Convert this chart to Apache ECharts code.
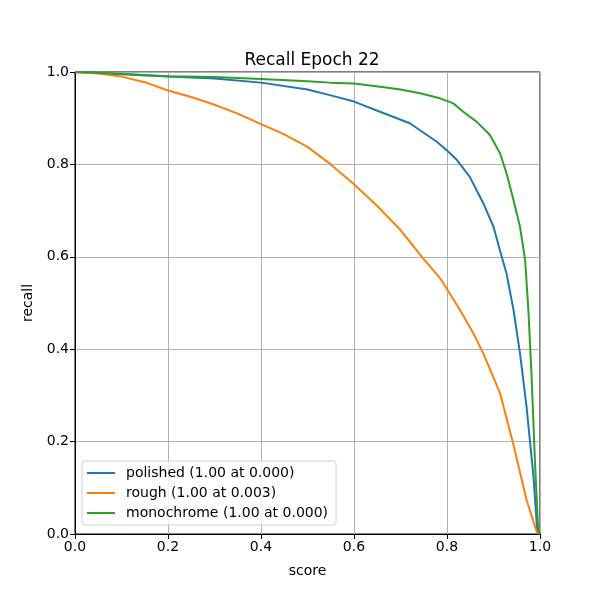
<!DOCTYPE html>
<html>
<head>
<meta charset="utf-8">
<script src="https://cdn.jsdelivr.net/npm/echarts@6/dist/echarts.min.js"></script>
<style>html,body{margin:0;padding:0;background:#fff}#c{width:600px;height:600px}</style>
</head>
<body>
<div id="c"></div>
<script>
var xTicks = [0, 0.2, 0.4, 0.6, 0.8, 1.0];
var yTicks = [0, 0.2, 0.4, 0.6, 0.8, 1.0];

var polishedX = [0, 0.05, 0.1, 0.2, 0.3, 0.4, 0.5, 0.548, 0.6, 0.656, 0.72, 0.778, 0.8, 0.821, 0.849, 0.878, 0.9, 0.915, 0.928, 0.943, 0.957, 0.971, 0.986, 0.994, 1.0];
var polishedY = [1.0, 0.998, 0.995, 0.99, 0.986, 0.977, 0.962, 0.95, 0.936, 0.914, 0.889, 0.849, 0.83, 0.81, 0.773, 0.716, 0.665, 0.61, 0.564, 0.485, 0.391, 0.276, 0.124, 0.009, 0.0];

var roughX = [0, 0.05, 0.1, 0.15, 0.2, 0.25, 0.3, 0.35, 0.4, 0.45, 0.5, 0.55, 0.6, 0.65, 0.7, 0.75, 0.785, 0.828, 0.857, 0.878, 0.914, 0.942, 0.971, 0.993, 1.0];
var roughY = [1.0, 0.997, 0.99, 0.978, 0.96, 0.946, 0.929, 0.91, 0.887, 0.865, 0.838, 0.8, 0.757, 0.71, 0.658, 0.595, 0.554, 0.485, 0.434, 0.391, 0.305, 0.197, 0.074, 0.005, 0.0];

var monoX = [0, 0.1, 0.2, 0.3, 0.4, 0.5, 0.548, 0.6, 0.656, 0.7, 0.742, 0.785, 0.814, 0.835, 0.864, 0.892, 0.914, 0.928, 0.943, 0.957, 0.968, 0.975, 0.982, 0.989, 0.996, 1.0];
var monoY = [1.0, 0.996, 0.991, 0.989, 0.985, 0.98, 0.977, 0.975, 0.968, 0.962, 0.954, 0.943, 0.932, 0.914, 0.892, 0.864, 0.824, 0.781, 0.723, 0.665, 0.593, 0.485, 0.34, 0.16, 0.009, 0.0];

var names = ['polished (1.00 at 0.000)', 'rough (1.00 at 0.003)', 'monochrome (1.00 at 0.000)'];
var colors = ['#1f77b4', '#ff7f0e', '#2ca02c'];

function pairs(xs, ys) { return xs.map(function (x, i) { return [x, ys[i]]; }); }

var font = 'DejaVu Sans';
var chart = echarts.init(document.getElementById('c'), null, {renderer: 'canvas'});
var axisCommon = {
  type: 'value', min: 0, max: 1, interval: 0.2,
  axisLine: {show: true, onZero: false, lineStyle: {color: '#000', width: 1}},
  axisTick: {show: true, length: 5, inside: false, lineStyle: {color: '#000', width: 1}},
  axisLabel: {color: '#000', fontFamily: font, fontSize: 14, margin: 6,
    formatter: function (v) { return v.toFixed(1); }},
  splitLine: {show: true, lineStyle: {color: '#b0b0b0', width: 1}},
  nameLocation: 'middle',
  nameTextStyle: {color: '#000', fontFamily: font, fontSize: 14}
};
var series = [
  pairs(polishedX, polishedY),
  pairs(roughX, roughY),
  pairs(monoX, monoY)
].map(function (d, i) {
  return {
    name: names[i], type: 'line', data: d, showSymbol: false, symbol: 'none',
    smooth: false, animation: false,
    lineStyle: {color: colors[i], width: 2}, itemStyle: {color: colors[i]}
  };
});
chart.setOption({
  animation: false,
  backgroundColor: '#fff',
  title: {text: 'Recall Epoch 22', left: 307, top: 47, textAlign: 'center',
    textStyle: {fontFamily: font, fontSize: 17, fontWeight: 'normal', color: '#000'}},
  grid: {left: 75, right: 60, top: 72, bottom: 66, show: true, borderColor: '#000', borderWidth: 1, backgroundColor: 'transparent'},
  xAxis: Object.assign({}, axisCommon, {name: 'score', nameGap: 30}),
  yAxis: Object.assign({}, axisCommon, {name: 'recall', nameGap: 40}),
  legend: {
    orient: 'vertical', left: 82, top: 461,
    data: names.map(function (n, i) { return {name: n, icon: 'rect', itemStyle: {color: colors[i]}}; }),
    itemWidth: 28, itemHeight: 2, itemGap: 6,
    padding: [5, 8, 5, 5],
    borderColor: '#d0d0d0', borderWidth: 1, borderRadius: 3,
    backgroundColor: 'rgba(255,255,255,0.8)',
    textStyle: {fontFamily: font, fontSize: 14, color: '#000', padding: [0, 0, 0, 6]}
  },
  series: series
});
</script>
</body>
</html>
